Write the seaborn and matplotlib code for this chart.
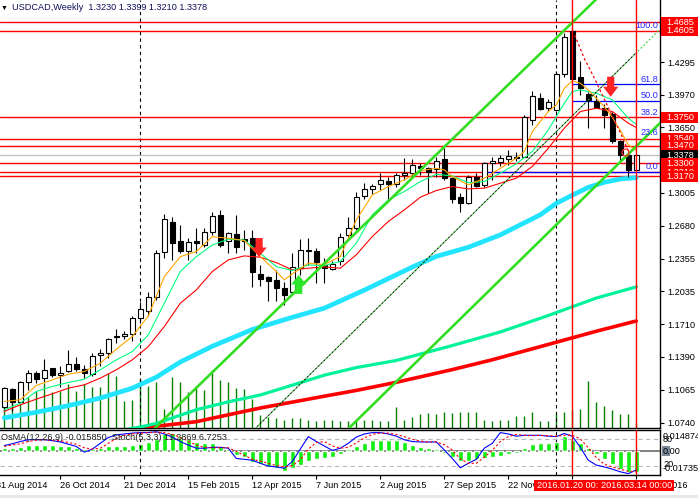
import numpy as np
import matplotlib
matplotlib.use("Agg")
import matplotlib.pyplot as plt
import seaborn as sns
from matplotlib.patches import Rectangle, FancyArrow
from matplotlib.transforms import IdentityTransform

sns.set_theme(style="white")
plt.rcParams['font.family'] = ['Liberation Sans', 'DejaVu Sans']

# ------------------------------------------------------------------ data
title_text = "USDCAD,Weekly  1.3230 1.3399 1.3210 1.3378"
sub_text = "OsMA(12,26,9) -0.015850  Stoch(5,3,3) 11.2869 6.7253"

opens = [1.0900, 1.1071, 1.0943, 1.1140, 1.1231, 1.1179, 1.1277, 1.1212, 1.1256, 1.1322,
         1.1269, 1.1220, 1.1407, 1.1424, 1.1597, 1.1597, 1.1617, 1.1771, 1.1847, 1.1978,
         1.2421, 1.2723, 1.2536, 1.2437, 1.2536, 1.2493, 1.2618, 1.2788, 1.2536, 1.2598,
         1.2556, 1.2559, 1.2208, 1.2182, 1.2149, 1.2073, 1.2030, 1.2264, 1.2434, 1.2434,
         1.2296, 1.2258, 1.2330, 1.2592, 1.2658, 1.2976, 1.3042, 1.3094, 1.3124, 1.3091,
         1.3183, 1.3199, 1.3275, 1.3248, 1.3239, 1.3337, 1.3150, 1.2963, 1.2911, 1.3160,
         1.3084, 1.3298, 1.3308, 1.3338, 1.3364, 1.3364, 1.3725, 1.3938, 1.3840, 1.3823,
         1.4174, 1.4601, 1.4145, 1.3981, 1.3912, 1.3840, 1.3781, 1.3518, 1.3380, 1.3230]
highs = [1.1097, 1.1084, 1.1156, 1.1261, 1.1251, 1.1370, 1.1284, 1.1304, 1.1460, 1.1388,
         1.1312, 1.1427, 1.1466, 1.1581, 1.1663, 1.1650, 1.1794, 1.1929, 1.2030, 1.2444,
         1.2798, 1.2772, 1.2690, 1.2559, 1.2657, 1.2657, 1.2821, 1.2838, 1.2624, 1.2788,
         1.2641, 1.2641, 1.2296, 1.2188, 1.2247, 1.2132, 1.2411, 1.2549, 1.2559, 1.2460,
         1.2362, 1.2330, 1.2609, 1.2773, 1.3019, 1.3107, 1.3094, 1.3206, 1.3166, 1.3199,
         1.3347, 1.3337, 1.3304, 1.3265, 1.3363, 1.3452, 1.3166, 1.3002, 1.3183, 1.3199,
         1.3314, 1.3357, 1.3380, 1.3430, 1.3413, 1.3774, 1.4010, 1.3987, 1.3928, 1.4207,
         1.4578, 1.4689, 1.4300, 1.3997, 1.3971, 1.3879, 1.3807, 1.3528, 1.3413, 1.3399]
lows = [1.0867, 1.0860, 1.0933, 1.1064, 1.1130, 1.1146, 1.1195, 1.1097, 1.1237, 1.1253,
        1.1181, 1.1207, 1.1296, 1.1378, 1.1532, 1.1565, 1.1548, 1.1722, 1.1794, 1.1952,
        1.2362, 1.2346, 1.2411, 1.2346, 1.2411, 1.2477, 1.2592, 1.2477, 1.2411, 1.2411,
        1.2444, 1.2077, 1.2090, 1.1945, 1.1936, 1.1903, 1.2010, 1.2198, 1.2296, 1.2116,
        1.2116, 1.2248, 1.2297, 1.2576, 1.2642, 1.2943, 1.2996, 1.3035, 1.2937, 1.3068,
        1.3134, 1.3150, 1.3183, 1.3009, 1.3166, 1.3134, 1.2904, 1.2822, 1.2897, 1.3068,
        1.3068, 1.3134, 1.3266, 1.3282, 1.3315, 1.3364, 1.3676, 1.3823, 1.3817, 1.3813,
        1.4151, 1.4118, 1.3971, 1.3643, 1.3840, 1.3643, 1.3495, 1.3315, 1.3167, 1.3210]
closes = [1.1080, 1.0950, 1.1140, 1.1228, 1.1172, 1.1258, 1.1212, 1.1235, 1.1322, 1.1273,
          1.1230, 1.1401, 1.1430, 1.1568, 1.1584, 1.1617, 1.1778, 1.1863, 1.1978, 1.2411,
          1.2745, 1.2516, 1.2437, 1.2519, 1.2510, 1.2618, 1.2779, 1.2493, 1.2608, 1.2477,
          1.2536, 1.2231, 1.2162, 1.2142, 1.2064, 1.2001, 1.2280, 1.2444, 1.2444, 1.2329,
          1.2264, 1.2307, 1.2569, 1.2658, 1.2970, 1.3042, 1.3078, 1.3134, 1.3091, 1.3183,
          1.3206, 1.3281, 1.3248, 1.3216, 1.3324, 1.3150, 1.2943, 1.2911, 1.3160, 1.3078,
          1.3298, 1.3324, 1.3354, 1.3371, 1.3354, 1.3758, 1.3961, 1.3833, 1.3899, 1.4174,
          1.4545, 1.4128, 1.4036, 1.3922, 1.3846, 1.3774, 1.3512, 1.3380, 1.3233, 1.3378]
# tick volume (relative units)
tick_volume = [31, 30, 24, 31, 37, 45, 36, 37, 44, 37,
               44, 41, 41, 55, 52, 27, 28, 49, 42, 46,
               19, 51, 46, 36, 42, 38, 58, 48, 46, 40,
               39, 29, 13, 11, 10, 8, 10, 10, 8, 7,
               8, 8, 7, 7, 7, 8, 8, 7, 7, 21,
               8, 11, 14, 15, 14, 16, 15, 16, 16, 16,
               8, 7, 8, 8, 12, 12, 16, 7, 7, 15,
               16, 18, 19, 47, 26, 22, 18, 14, 14, 5]

# moving averages (bar index, value)
ma_orange_k = [0, 2, 4, 6, 8, 10, 12, 14, 16, 18, 20, 22, 24, 26, 28, 30, 32, 34, 35, 36,
               38, 40, 42, 44, 46, 48, 50, 52, 54, 55, 56, 58, 60, 62, 64, 65, 66, 68, 69,
               70, 71, 72, 73, 74, 75, 76, 77, 78, 79]
ma_orange_v = [1.0951, 1.0968, 1.1109, 1.1164, 1.1220, 1.1246, 1.1328, 1.1466, 1.1591, 1.1794,
               1.2180, 1.2378, 1.2428, 1.2575, 1.2559, 1.2536, 1.2378, 1.2231, 1.2149, 1.2208,
               1.2313, 1.2300, 1.2379, 1.2740, 1.2986, 1.3068, 1.3134, 1.3225, 1.3248, 1.3232,
               1.3166, 1.3084, 1.3150, 1.3248, 1.3348, 1.3413, 1.3610, 1.3807, 1.3872,
               1.4036, 1.4109, 1.4086, 1.4020, 1.3938, 1.3856, 1.3750, 1.3620, 1.3480, 1.3420]
ma_spring_k = [0, 2, 4, 6, 8, 10, 12, 14, 16, 18, 20, 22, 24, 26, 28, 30, 32, 34,
               36, 38, 40, 42, 44, 46, 48, 50, 52, 54, 56, 58, 60, 62, 64, 66, 68, 70,
               71, 72, 74, 76, 78, 79]
ma_spring_v = [1.0869, 1.0935, 1.1050, 1.1099, 1.1138, 1.1171, 1.1263, 1.1361, 1.1443, 1.1607,
               1.1919, 1.2231, 1.2378, 1.2493, 1.2549, 1.2542, 1.2411, 1.2280,
               1.2241, 1.2296, 1.2290, 1.2330, 1.2510, 1.2789, 1.2937, 1.3019, 1.3117, 1.3189,
               1.3173, 1.3107, 1.3117, 1.3200, 1.3292, 1.3413, 1.3626, 1.3889,
               1.4004, 1.4020, 1.3987, 1.3922, 1.3741, 1.3680]
ma_redthin_k = [0, 2, 4, 6, 8, 10, 12, 14, 16, 18, 20, 22, 24, 26, 28, 30, 32, 34,
                36, 38, 40, 42, 44, 46, 48, 50, 52, 54, 56, 58, 60, 62, 64, 66, 68, 70,
                72, 74, 76, 78, 79]
ma_redthin_v = [1.0853, 1.0918, 1.0974, 1.1027, 1.1082, 1.1115, 1.1181, 1.1263, 1.1361, 1.1492,
                1.1689, 1.1919, 1.2050, 1.2231, 1.2346, 1.2385, 1.2372, 1.2319,
                1.2247, 1.2264, 1.2277, 1.2264, 1.2396, 1.2576, 1.2724, 1.2838, 1.2963, 1.3029,
                1.3068, 1.3045, 1.3052, 1.3101, 1.3151, 1.3266, 1.3446, 1.3643,
                1.3807, 1.3840, 1.3807, 1.3692, 1.3650]
ma_cyan_k = [0, 4, 8, 12, 16, 19, 22, 26, 31, 36, 40, 45, 51, 54, 58, 62, 67, 69, 71, 73, 75, 77, 79]
ma_cyan_v = [1.0790, 1.0845, 1.0910, 1.0985, 1.1082, 1.1190, 1.1340, 1.1495, 1.1660, 1.1780,
             1.1870, 1.2048, 1.2275, 1.2380, 1.2470, 1.2592, 1.2790, 1.2903, 1.2983, 1.3060,
             1.3110, 1.3143, 1.3156]
ma_green_k = [12, 17, 19, 24, 28, 32, 36, 40, 44, 49, 56, 62, 68, 74, 79]
ma_green_v = [1.0630, 1.0700, 1.0735, 1.0870, 1.0948, 1.1015, 1.1112, 1.1210, 1.1285, 1.1355,
              1.1502, 1.1636, 1.1798, 1.1970, 1.2080]
ma_red_k = [14, 20, 24, 28, 32, 36, 40, 44, 49, 56, 61, 68, 74, 79]
ma_red_v = [1.0660, 1.0716, 1.0752, 1.0820, 1.0887, 1.0945, 1.1003, 1.1060, 1.1140, 1.1265,
            1.1362, 1.1513, 1.1643, 1.1744]

osma = [0.00225, 0.00225, 0.00275, 0.00425, 0.00425, 0.00475, 0.00425, 0.00375, 0.00375, 0.00225,
        0.00175, 0.00175, 0.00225, 0.0035, 0.00375, 0.00375, 0.00425, 0.0055, 0.00675, 0.00875,
        0.0125, 0.01375, 0.01125, 0.00875, 0.007, 0.00575, 0.00575, 0.00325, 0.00125, -0.003,
        -0.00425, -0.008, -0.00975, -0.01225, -0.013, -0.015, -0.013, -0.0105, -0.00725, -0.00625,
        -0.0055, -0.00475, -0.00225, 0.00125, 0.00375, 0.00575, 0.00825, 0.00825, 0.00825, 0.00825,
        0.007, 0.0045, 0.00275, 0.002, 0.00125, -0.00175, -0.00425, -0.00725, -0.00725, -0.00625,
        -0.0055, -0.00425, -0.00375, -0.00225, -0.00125, 0.002, 0.00525, 0.00575, 0.00575, 0.007,
        0.01125, 0.00825, 0.00575, 0.002, -0.00225, -0.006, -0.00975, -0.0135, -0.0155, -0.01585]
stoch_main = [66, 70, 75, 79, 79, 79, 77, 74, 69, 64,
              51, 58, 71, 84, 90, 92, 94, 95, 95, 97,
              92, 85, 75, 67, 60, 60, 62, 62, 60, 37,
              35, 33, 26, 20, 18, 15, 30, 58, 86, 75,
              65, 55, 60, 71, 85, 92, 95, 95, 92, 87,
              79, 75, 74, 74, 74, 56, 37, 16, 26, 35,
              60, 71, 95, 92, 87, 89, 89, 89, 87, 86,
              93, 87, 62, 33, 22, 18, 13, 7, 3, 11.2869]
stoch_signal = [64, 67, 70, 75, 78, 79, 78, 77, 73, 69,
                61, 58, 60, 71, 82, 89, 92, 94, 95, 96,
                95, 91, 84, 76, 67, 62, 61, 61, 61, 53,
                44, 35, 31, 26, 21, 18, 21, 34, 58, 73,
                75, 65, 60, 62, 72, 83, 91, 94, 94, 91,
                86, 80, 76, 74, 74, 68, 56, 36, 26, 26,
                40, 55, 75, 86, 91, 89, 88, 89, 88, 87,
                89, 89, 81, 61, 39, 24, 18, 13, 8, 6.7253]

red_levels = [1.4685, 1.4605, 1.3750, 1.3540, 1.3470, 1.3300, 1.3210, 1.3170]
current_price = 1.3378
fib_low, fib_high = 1.3215, 1.4605
fib_ratios = [0.0, 0.236, 0.382, 0.5, 0.618, 1.0]
fib_start_bar = 71
fib0_start_bar = 60

price_ticks = [1.4295, 1.3970, 1.3650, 1.3005, 1.2680, 1.2355, 1.2035, 1.1710, 1.1390, 1.1065, 1.0740]
price_boxes = [(1.4685, 'red'), (1.4605, 'red'), (1.3750, 'red'), (1.3540, 'red'),
               (1.3470, 'red'), (1.3378, 'black'), (1.3210, 'red'), (1.3300, 'red'), (1.3170, 'red')]

date_tick_bars = [-1, 7, 15, 23, 31, 39, 47, 55, 63, 71, 79]
date_tick_labels = ["31 Aug 2014", "26 Oct 2014", "21 Dec 2014", "15 Feb 2015", "12 Apr 2015",
                    "7 Jun 2015", "2 Aug 2015", "27 Sep 2015", "22 Nov 2015", "17 Jan 2016", "13 Mar 2016"]
marked_bars = [71, 79]
marked_labels = ["2016.01.20 00:00", "2016.03.14 00:00"]
year_start_bars = [17, 69]

# trend lines: anchor points (bar, price)
lime_upper = [(18.84, 1.0690), (74.0, 1.4914)]
lime_lower = [(43.10, 1.0690), (81.96, 1.3694)]
thin_line = [(31.43, 1.0690), (79.0, 1.4387), (81.96, 1.4616)]
red_dash_k = [71.3, 72.5, 73.8, 75.6, 77.0, 78.0]
red_dash_p = [1.4560, 1.4330, 1.4130, 1.3830, 1.3600, 1.3420]
signal_arrows = [(31.85, 1.2561, 1.2374, '#ff2323'), (75.8, 1.4150, 1.3953, '#ff2323'),
                 (36.8, 1.2010, 1.2197, '#2ee62e')]
circle_mark = (77.6, 1.3405)

# ------------------------------------------------------------------ figure
W, H = 698, 498
fig = plt.figure(figsize=(W / 100, H / 100), dpi=100)
fig.patch.set_facecolor('white')


def rect(l, t, r, b):
    return [l / W, 1 - b / H, (r - l) / W, (b - t) / H]


ax = fig.add_axes(rect(0, 0, 660, 428))
axv = ax.twinx()
ax2 = fig.add_axes(rect(0, 430, 660, 475))
ax3 = ax2.twinx()

XL = (-4.3 / 8, (660 - 4.3) / 8)
YL = (1.06899, 1.49057)
FS = 6.6

ax.set_zorder(2)
axv.set_zorder(1)
ax.patch.set_visible(False)
axv.patch.set_visible(False)

idx = np.arange(len(closes))
o, h, l, c = map(np.array, (opens, highs, lows, closes))

# volumes
axv.vlines(idx, 0, tick_volume, color='#008000', lw=1.0)
axv.set_ylim(0, 428)
axv.set_yticks([])
for s in axv.spines.values():
    s.set_visible(False)

# horizontal objects
fib_levels = [fib_low + r * (fib_high - fib_low) for r in fib_ratios]
for r, lvl in zip(fib_ratios, fib_levels):
    hidden = any(abs(lvl - rl) < 0.0006 for rl in red_levels)
    if r == 0.0:
        ax.hlines(lvl, fib0_start_bar, XL[1], color='#0000ff', lw=0.9, zorder=2.1)
    elif not hidden:
        ax.hlines(lvl, fib_start_bar, XL[1], color='#0000ff', lw=0.9, zorder=1.8)
    ax.text(XL[1] - 0.2, lvl + 0.0009, f"{r * 100:.1f}", ha='right', va='bottom',
            color='#2828ff', fontsize=FS, zorder=9)
for lvl in red_levels:
    ax.axhline(lvl, color='#ff0000', lw=1.0, zorder=2)
ax.axhline(current_price, color='#c0c0c0', lw=0.9, zorder=2)

# year separators
for b in year_start_bars:
    ax.axvline(b, color='black', lw=0.8, ls=(0, (3, 3)), zorder=1.5)
    ax3.axvline(b, color='black', lw=0.8, ls=(0, (3, 3)), zorder=1.5)


def sline(axx, k, v, color, lw, z, **kw):
    sns.lineplot(x=k, y=v, ax=axx, color=color, linewidth=lw, zorder=z,
                 estimator=None, sort=False, legend=False, **kw)


# MAs (thick)
sline(ax, ma_red_k, ma_red_v, '#ff0000', 2.6, 3)
sline(ax, ma_green_k, ma_green_v, '#00f29a', 2.3, 3)
sline(ax, ma_cyan_k, ma_cyan_v, '#22e4ff', 3.4, 3)

# candles
bull = c >= o
ax.vlines(idx, l, h, color='black', lw=0.8, zorder=4)
bot = np.minimum(o, c)
hgt = np.abs(c - o)
ax.bar(idx[bull], hgt[bull], bottom=bot[bull], width=0.62, color='white',
       edgecolor='black', linewidth=0.8, zorder=5)
ax.bar(idx[~bull], hgt[~bull], bottom=bot[~bull], width=0.62, color='black',
       edgecolor='black', linewidth=0.8, zorder=5)

# MAs (thin)
sline(ax, ma_redthin_k, ma_redthin_v, '#ff0000', 0.8, 6)
sline(ax, ma_spring_k, ma_spring_v, '#00ff7f', 0.8, 6)
sline(ax, ma_orange_k, ma_orange_v, '#ffa500', 0.8, 6)

# trend lines
ax.plot([p[0] for p in lime_upper], [p[1] for p in lime_upper], color='#33dd22', lw=1.9, zorder=7)
ax.plot([p[0] for p in lime_lower], [p[1] for p in lime_lower], color='#33dd22', lw=1.9, zorder=7)
ax.plot([thin_line[0][0], thin_line[2][0]], [thin_line[0][1], thin_line[2][1]],
        color='#22cc22', lw=0.7, ls=(0, (2, 2)), zorder=7)
ax.plot([thin_line[0][0], thin_line[1][0]], [thin_line[0][1], thin_line[1][1]],
        color='black', lw=0.7, ls=(2, (2, 2)), zorder=7)
ax.plot(red_dash_k, red_dash_p, color='#ff0000', lw=0.9, ls=(0, (2, 2)), zorder=7)
ax.plot([circle_mark[0]], [circle_mark[1]], marker='o', ms=5, mfc='none', mec='#ff3030',
        mew=0.9, zorder=8)
for x, y0, y1, col in signal_arrows:
    ax.add_patch(FancyArrow(x, y0, 0, y1 - y0, width=0.9, head_width=1.9,
                            head_length=abs(y1 - y0) * 0.5, length_includes_head=True,
                            color=col, lw=0, zorder=8))

for b in marked_bars:
    ax.axvline(b, color='#ff0000', lw=1.0, zorder=8)

ax.set_xlim(*XL)
ax.set_ylim(*YL)
axv.set_xlim(*XL)
ax.set_xlabel('')
ax.set_ylabel('')
ax.set_xticks([])
ax.yaxis.tick_right()
ax.set_yticks(price_ticks)
ax.set_yticklabels([f"{t:.4f}" for t in price_ticks])
ax.tick_params(axis='y', direction='out', length=3, width=0.8, pad=2, labelsize=FS,
               colors='black', right=True, left=False)
for side in ('left', 'top'):
    ax.spines[side].set_visible(False)
for side in ('right', 'bottom'):
    ax.spines[side].set_visible(True)
    ax.spines[side].set_color('black')
    ax.spines[side].set_linewidth(1.0)

# ------------------------------------------------------------------ sub window
ax2.bar(idx, osma, width=0.62, color='#11ee11', zorder=2)
ax2.axhline(0, color='#808080', lw=1.4, zorder=1)
ax2.set_xlim(*XL)
ax2.set_ylim(-0.0180, 0.01575)
ax2.set_yticks([])
ax2.set_xticks(date_tick_bars)
ax2.tick_params(axis='x', direction='out', length=3, width=0.8, labelbottom=False,
                bottom=True, colors='black')
for side in ('top', 'right', 'bottom'):
    ax2.spines[side].set_visible(True)
    ax2.spines[side].set_color('black')
    ax2.spines[side].set_linewidth(1.0)
ax2.spines['left'].set_visible(False)

ax3.axhline(80, color='#b8b8b8', lw=0.8, ls=(0, (4, 3)))
ax3.axhline(20, color='#b8b8b8', lw=0.8, ls=(0, (4, 3)))
sline(ax3, list(idx), stoch_main, '#0000ff', 0.8, 3)
ax3.plot(idx, stoch_signal, color='#ff0000', lw=0.8, ls=(0, (2, 2)), zorder=3)
for b in marked_bars:
    ax3.axvline(b, color='#ff0000', lw=1.0, zorder=4)
ax3.set_xlim(*XL)
ax3.set_ylim(-0.2, 100.9)
ax3.set_yticks([])
ax3.set_xlabel('')
ax3.set_ylabel('')
ax2.set_xlabel('')
for s in ax3.spines.values():
    s.set_visible(False)


# ------------------------------------------------------------------ texts
def ftext(xpx, ypx, s, **kw):
    kw.setdefault('fontsize', FS)
    return fig.text(xpx / W, 1 - ypx / H, s, **kw)


def fbox(x0, ytop, w, hh, fc, z):
    fig.add_artist(Rectangle((x0, H - ytop - hh), w, hh, transform=IdentityTransform(),
                             facecolor=fc, edgecolor='none', zorder=z))


ftext(1, 8, "\u25bc", va='center', ha='left', fontsize=5, color='black')
ftext(12, 8, title_text, va='center', ha='left', color='#10105a')
ftext(1, 438, sub_text, va='center', ha='left', color='#202020', zorder=5)

# price boxes on the right scale
for i, (price, col) in enumerate(price_boxes):
    ypix = H - ax.transData.transform((0, price))[1]
    fbox(661, ypix - 5.5, 37, 11, col, 10 + 2 * i)
    ftext(680, ypix, f"{price:.4f}", ha='center', va='center', color='white', zorder=11 + 2 * i)

# sub-window scale texts
ftext(663, 436, "0.014874", ha='left', va='center', color='black')
ftext(663, 439.5, "80", ha='left', va='center', color='black')
fbox(662, 446, 8, 10, '#7a8a9a', 5)
ftext(663, 451, "0.00", ha='left', va='center', color='black', zorder=6)
ftext(663, 464.5, "20", ha='left', va='center', color='black')
ftext(663, 468.5, "-0.017350", ha='left', va='center', color='black')

# date axis
for b, lab in zip(date_tick_bars, date_tick_labels):
    ftext(4.3 + 8 * b, 485.5, lab, ha='left', va='center', color='black', zorder=3)
for i, (b, lab) in enumerate(zip(marked_bars, marked_labels)):
    xc = 4.3 + 8 * b
    fbox(xc - 38, 480, 76, 11, '#ff0000', 20 + 2 * i)
    ftext(xc, 485.5, lab, ha='center', va='center', color='white', zorder=21 + 2 * i)

fbox(0, 495, W, 3, '#e8e8e8', 1)

fig.savefig("out.png", dpi=100, facecolor='white')
